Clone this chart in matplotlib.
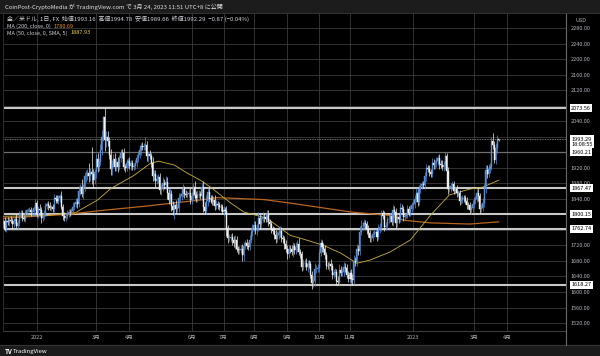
import numpy as np
import pandas as pd
import matplotlib
matplotlib.use("Agg")
import matplotlib.pyplot as plt
from matplotlib.lines import Line2D
from matplotlib.patches import Rectangle
from matplotlib.transforms import blended_transform_factory

plt.rcParams['font.family'] = ['Noto Sans CJK JP', 'DejaVu Sans']

# XAU/USD daily closes, one list per month
close_2021_12 = [1782, 1763, 1783, 1779, 1785, 1783, 1775, 1782, 1787, 1771, 1778, 1799, 1804,
                 1790, 1789, 1803, 1810, 1811, 1811, 1805, 1805, 1816, 1829]
close_2022_01 = [1801, 1814, 1810, 1790, 1797, 1801, 1821, 1826, 1821, 1817, 1818, 1813, 1842,
                 1840, 1835, 1843, 1848, 1819, 1796, 1791, 1797]
close_2022_02 = [1801, 1807, 1805, 1808, 1820, 1826, 1833, 1827, 1859, 1870, 1852, 1870, 1898,
                 1898, 1906, 1898, 1910, 1903, 1889, 1909]
close_2022_03 = [1943, 1922, 1935, 1966, 1998, 2050, 1992, 2000, 1988, 1953, 1916, 1929, 1943,
                 1921, 1935, 1921, 1944, 1958, 1957, 1922, 1920, 1932, 1937]
close_2022_04 = [1925, 1932, 1923, 1925, 1931, 1946, 1954, 1966, 1977, 1974, 1976, 1979, 1950,
                 1955, 1951, 1932, 1898, 1904, 1886, 1890, 1895]
close_2022_05 = [1863, 1869, 1881, 1876, 1883, 1855, 1838, 1853, 1822, 1811, 1824, 1815, 1816,
                 1842, 1846, 1853, 1866, 1853, 1851, 1853, 1855, 1837]
close_2022_06 = [1848, 1870, 1851, 1841, 1853, 1853, 1848, 1871, 1819, 1808, 1834, 1857, 1840,
                 1839, 1832, 1838, 1822, 1827, 1823, 1820, 1818, 1807]
close_2022_07 = [1811, 1809, 1764, 1739, 1740, 1742, 1734, 1725, 1735, 1711, 1708, 1709, 1711,
                 1696, 1719, 1727, 1719, 1717, 1735, 1755, 1766]
close_2022_08 = [1772, 1760, 1765, 1791, 1775, 1789, 1794, 1792, 1789, 1802, 1779, 1776, 1761,
                 1758, 1747, 1736, 1748, 1751, 1758, 1738, 1737, 1724, 1711]
close_2022_09 = [1697, 1712, 1710, 1702, 1718, 1708, 1716, 1724, 1702, 1697, 1665, 1675, 1675,
                 1664, 1673, 1671, 1644, 1622, 1629, 1660, 1660, 1661]
close_2022_10 = [1701, 1725, 1716, 1712, 1695, 1668, 1666, 1673, 1666, 1644, 1650, 1652, 1629,
                 1627, 1657, 1649, 1652, 1665, 1663, 1644, 1633]
close_2022_11 = [1648, 1634, 1630, 1681, 1676, 1712, 1706, 1755, 1771, 1771, 1777, 1774, 1762,
                 1751, 1738, 1740, 1749, 1755, 1755, 1741, 1762, 1768]
close_2022_12 = [1803, 1797, 1768, 1771, 1787, 1789, 1797, 1781, 1810, 1807, 1777, 1793, 1788,
                 1817, 1814, 1792, 1797, 1798, 1814, 1804, 1815, 1824]
close_2023_01 = [1827, 1840, 1855, 1833, 1865, 1872, 1877, 1876, 1898, 1920, 1917, 1908, 1905,
                 1932, 1926, 1931, 1938, 1946, 1929, 1928, 1922, 1928]
close_2023_02 = [1951, 1912, 1865, 1867, 1874, 1877, 1861, 1865, 1854, 1854, 1835, 1836, 1842,
                 1841, 1834, 1825, 1823, 1811, 1817, 1826]
close_2023_03 = [1836, 1840, 1855, 1847, 1814, 1817, 1830, 1868, 1913, 1904, 1918, 1922, 1988,
                 1979, 1940, 1970, 1993.16, 1992.29]
first_open = 1775

# upper / lower wick lengths (USD above the body top, below the body bottom), one line per month
wick_up = [
    8, 12, 6, 9, 7, 10, 8, 6, 9, 14, 7, 10, 8, 6, 9, 7, 5, 6, 8, 7, 9, 6, 10,
    9, 7, 12, 8, 6, 10, 8, 7, 9, 11, 6, 8, 10, 7, 9, 8, 5, 12, 7, 9, 6,
    10, 8, 7, 9, 12, 6, 10, 8, 14, 9, 20, 8, 10, 16, 12, 25, 10, 64, 15, 9,
    12, 15, 10, 14, 20, 4, 25, 15, 14, 12, 15, 10, 12, 14, 10, 12, 9, 11, 10, 14, 8, 10, 9,
    10, 8, 9, 7, 8, 10, 9, 12, 8, 10, 7, 20, 10, 9, 12, 8, 15, 10, 9, 12, 8,
    12, 10, 14, 9, 16, 12, 10, 15, 9, 12, 8, 14, 10, 12, 9, 10, 11, 8, 9, 7, 10, 12,
    9, 12, 15, 8, 10, 9, 8, 10, 14, 12, 15, 10, 12, 9, 10, 8, 12, 9, 8, 10, 7, 9,
    10, 8, 12, 9, 10, 8, 9, 10, 12, 9, 8, 10, 9, 12, 10, 8, 9, 10, 12, 9, 10,
    10, 12, 9, 14, 10, 9, 12, 10, 9, 8, 10, 9, 8, 10, 9, 12, 10, 9, 12, 10, 9, 8, 10,
    10, 9, 8, 12, 10, 9, 12, 10, 14, 9, 8, 10, 9, 12, 10, 9, 8, 10, 12, 14, 9, 10,
    10, 12, 9, 10, 8, 9, 10, 8, 12, 9, 10, 9, 8, 12, 15, 9, 10, 12, 9, 8, 10,
    9, 10, 12, 15, 10, 12, 9, 15, 14, 10, 12, 9, 8, 10, 9, 8, 9, 7, 8, 10, 12, 9,
    9, 8, 12, 10, 8, 9, 7, 10, 14, 12, 9, 8, 10, 12, 9, 8, 7, 6, 9, 8, 10, 8,
    10, 9, 12, 8, 10, 9, 8, 10, 12, 9, 8, 10, 9, 12, 10, 9, 10, 8, 9, 10, 12, 9,
    9, 8, 10, 9, 8, 10, 9, 8, 10, 9, 8, 10, 9, 8, 9, 10, 8, 9, 8, 10,
    9, 8, 10, 12, 8, 9, 12, 10, 15, 14, 12, 10, 12, 21, 10, 14, 12, 1.62,
]
wick_dn = [
    10, 6, 9, 7, 8, 6, 12, 7, 8, 6, 10, 7, 9, 8, 6, 10, 7, 5, 6, 9, 7, 8, 6,
    8, 10, 6, 12, 7, 9, 6, 8, 10, 7, 9, 6, 8, 11, 7, 9, 12, 6, 10, 8, 7,
    8, 9, 10, 7, 6, 9, 7, 11, 8, 10, 7, 12, 9, 14, 10, 15, 12, 25, 20, 12,
    15, 12, 10, 8, 12, 8, 30, 18, 12, 10, 14, 15, 8, 10, 9, 12, 8, 10, 12, 9, 10, 8, 12,
    9, 10, 8, 9, 7, 8, 10, 9, 12, 8, 9, 10, 12, 14, 9, 10, 12, 10, 15, 8, 9,
    10, 14, 9, 12, 10, 15, 12, 10, 14, 12, 24, 12, 8, 9, 10, 8, 9, 10, 7, 9, 8, 10,
    10, 8, 12, 9, 8, 10, 9, 12, 14, 6, 8, 12, 9, 10, 8, 9, 11, 7, 9, 8, 10, 6,
    12, 8, 20, 14, 8, 10, 12, 10, 14, 8, 10, 9, 8, 16, 15, 9, 8, 10, 9, 8, 10,
    9, 10, 12, 8, 12, 10, 9, 11, 10, 8, 9, 12, 10, 9, 10, 9, 8, 12, 10, 9, 10, 12, 9,
    12, 10, 9, 8, 11, 10, 9, 12, 8, 10, 12, 9, 10, 8, 12, 10, 9, 15, 10, 14, 12, 9,
    9, 8, 12, 10, 9, 10, 8, 12, 9, 10, 8, 10, 12, 9, 10, 8, 9, 10, 12, 9, 8,
    8, 10, 13, 9, 10, 8, 12, 10, 9, 12, 8, 10, 12, 9, 10, 8, 9, 7, 6, 10, 8, 9,
    10, 9, 12, 8, 9, 10, 8, 9, 10, 8, 12, 9, 10, 8, 9, 10, 7, 6, 8, 9, 7, 8,
    9, 10, 8, 12, 9, 10, 8, 9, 10, 12, 9, 10, 8, 9, 10, 8, 9, 10, 12, 9, 8, 10,
    10, 9, 12, 8, 9, 10, 8, 9, 10, 8, 12, 9, 8, 9, 8, 10, 9, 8, 9, 10,
    10, 9, 8, 12, 10, 9, 8, 10, 12, 10, 9, 12, 8, 10, 8, 10, 12, 2.63,
]

# moving averages as drawn
ma200_dates = ["2021-12-01", "2022-02-01", "2022-03-07", "2022-04-18", "2022-06-09", "2022-06-27",
               "2022-08-10", "2022-09-05", "2022-11-02", "2022-12-09", "2022-12-22", "2023-01-18",
               "2023-02-24", "2023-03-24"]
ma200_vals = [1790, 1800, 1810, 1821, 1837, 1843, 1838, 1829, 1806, 1797, 1785, 1778, 1775, 1780.69]
ma50_dates = ["2021-12-01", "2022-01-12", "2022-02-09", "2022-03-02", "2022-03-15", "2022-04-06",
              "2022-04-21", "2022-04-29", "2022-05-16", "2022-05-27", "2022-06-09", "2022-06-20",
              "2022-07-08", "2022-07-21", "2022-08-12", "2022-09-05", "2022-09-21", "2022-10-06",
              "2022-10-24", "2022-11-08", "2022-11-21", "2022-12-09", "2022-12-29", "2023-01-18",
              "2023-02-06", "2023-02-24", "2023-03-09", "2023-03-24"]
ma50_vals = [1795, 1797, 1805, 1837, 1866, 1900, 1930, 1937, 1927, 1906, 1888, 1870,
             1829, 1806, 1790, 1746, 1733, 1720, 1700, 1674, 1682, 1703, 1734, 1798,
             1850, 1865, 1870, 1887.93]

# horizontal levels
level_vals = [2073.56, 1867.47, 1800.15, 1762.74, 1618.27]
mid_level = 1960.21
last_price = 1993.29

price_ticks = list(range(1520, 2281, 40))
hidden_ticks = [2080, 2000, 1960, 1760]   # covered by the price boxes

month_dates = ["2022-01-03", "2022-03-01", "2022-04-01", "2022-06-01", "2022-07-01", "2022-08-01",
               "2022-09-01", "2022-10-03", "2022-11-01", "2023-01-02", "2023-03-01", "2023-04-03"]
month_labels = ["2022", "3月", "4月", "6月", "7月", "8月", "9月", "10月", "11月", "2023", "3月", "4月"]

closes = (close_2021_12 + close_2022_01 + close_2022_02 + close_2022_03 + close_2022_04 +
          close_2022_05 + close_2022_06 + close_2022_07 + close_2022_08 + close_2022_09 +
          close_2022_10 + close_2022_11 + close_2022_12 + close_2023_01 + close_2023_02 +
          close_2023_03)

all_days = pd.bdate_range("2021-12-01", "2023-06-30")
pos = pd.Series(np.arange(len(all_days)), index=all_days)

def at(ds):
    return pos[pd.to_datetime(ds)].values

UP = "#5b8fd8"
DOWN = "#f0f0f0"
GRID = "#3a3a3a"
TXT = "#b2b5be"
W, H = 600, 356

fig = plt.figure(figsize=(6, 3.56), dpi=100, facecolor="#000000")
fig.patches.append(Rectangle((0, 1 - 12 / H), 1, 12 / H, transform=fig.transFigure,
                             color="#1c1c1c", zorder=0))
fig.patches.append(Rectangle((0, 0), 1, 11 / H, transform=fig.transFigure,
                             color="#1c1c1c", zorder=0))

ax = fig.add_axes([3 / W, 1 - 331 / H, 563 / W, 318 / H])
ax.set_facecolor("#000000")

c = np.array(closes, dtype=float)
o = np.array([first_open] + closes[:-1], dtype=float)
x = np.arange(len(c))
hi = np.maximum(o, c) + np.array(wick_up)
lo = np.minimum(o, c) - np.array(wick_dn)
up = c >= o
cols = np.where(up, UP, DOWN)

ax.vlines(x, lo, hi, colors=cols, lw=0.5, zorder=4)
ax.bar(x[up], (c - o)[up], bottom=o[up], width=0.75, color=UP, edgecolor=UP, linewidth=0.3, zorder=4)
ax.bar(x[~up], (c - o)[~up], bottom=o[~up], width=0.75, color=DOWN, edgecolor=DOWN, linewidth=0.3, zorder=4)

ax.plot(at(ma200_dates), ma200_vals, color="#b8651e", lw=0.9, zorder=3)
ax.plot(at(ma50_dates), ma50_vals, color="#c9b23c", lw=0.6, zorder=3)

for v in level_vals:
    ax.axhline(v, color="#c8c8c8", lw=1.5, zorder=2)
ax.axhline(mid_level, color="#6e6e6e", lw=0.9, zorder=2)
ax.axhline(last_price, color="#9a9a9a", lw=0.6, ls=(0, (1, 1)), zorder=2)

ax.set_xlim(-0.3, 388.5)
ax.set_ylim(1499.5, 2318.6)

ax.set_yticks(price_ticks)
ax.set_yticklabels(["" if v in hidden_ticks else f"{v:.2f}" for v in price_ticks])
ax.yaxis.tick_right()
ax.set_xticks(at(month_dates))
ax.set_xticklabels(month_labels)
ax.tick_params(axis="both", length=0, labelsize=4, colors=TXT)
ax.tick_params(axis="y", pad=3.6)
ax.tick_params(axis="x", pad=3.0)
ax.grid(True, color=GRID, lw=0.6, zorder=0)
ax.set_axisbelow(True)

ax.spines["top"].set_visible(False)
ax.spines["left"].set_color("#2a2a2a")
ax.spines["bottom"].set_color("#3a3a3a")
ax.spines["right"].set_color("#6a6a6a")
ax.spines["right"].set_linewidth(0.8)

# price boxes on the right axis
tr = blended_transform_factory(ax.transAxes, ax.transData)
box = dict(boxstyle="square,pad=0.25", fc="white", ec="none")
for v in level_vals + [mid_level]:
    ax.text(1.009, v, f"{v:.2f}", transform=tr, fontsize=4, color="black", va="center",
            ha="left", bbox=box, clip_on=False, zorder=10)
ax.text(1.009, last_price - 6, f"{last_price:.2f}\n18:08:55", transform=tr, fontsize=4,
        color="black", va="center", ha="left", linespacing=1.0, bbox=box, clip_on=False, zorder=11)
ax.text(1.016, 2300, "USD", transform=tr, fontsize=4, color=TXT, va="center", ha="left", clip_on=False)

# frame lines outside the axes
fig.lines.append(Line2D([0, 1], [1 - 345 / H] * 2, transform=fig.transFigure, color="#3a3a3a", lw=0.6))
fig.lines.append(Line2D([566 / W] * 2, [1 - 345 / H, 1 - 331 / H], transform=fig.transFigure,
                        color="#6a6a6a", lw=0.8))
fig.lines.append(Line2D([0, 1], [1 - 12.5 / H] * 2, transform=fig.transFigure, color="#3a3a3a", lw=0.6))

# header and legend
fig.text(5 / W, 1 - 6.5 / H, "CoinPost-CryptoMedia が TradingView.com で 3月 24, 2023 11:51 UTC+8 に公開",
         fontsize=4.3, color="#e0e0e0", va="center", ha="left")
fig.text(7 / W, 1 - 19 / H,
         "金／米ドル, 1日, FX  始値1993.16  高値1994.78  安値1989.66  終値1992.29  −0.87 (−0.04%)",
         fontsize=4.3, color="#d1d4dc", va="center", ha="left")
t1 = fig.text(7 / W, 1 - 26 / H, "MA (200, close, 0)", fontsize=4, color="#d1d4dc", va="center", ha="left")
fig.add_artist(plt.Annotation("1780.69", xy=(1, 0.5), xycoords=t1, xytext=(2, 0),
                              textcoords="offset points", fontsize=4, color="#f08c28", va="center"))
t2 = fig.text(7 / W, 1 - 33 / H, "MA (50, close, 0, SMA, 5)", fontsize=4, color="#d1d4dc", va="center", ha="left")
fig.add_artist(plt.Annotation("1887.93", xy=(1, 0.5), xycoords=t2, xytext=(2, 0),
                              textcoords="offset points", fontsize=4, color="#e8d44a", va="center"))

fig.text(5 / W, 1 - 351 / H, "TV", fontsize=4.5, color="white", weight="bold", va="center", ha="left")
fig.text(13 / W, 1 - 351 / H, "TradingView", fontsize=4.3, color="white", va="center", ha="left")

fig.savefig("out.png", dpi=100, facecolor=fig.get_facecolor())
